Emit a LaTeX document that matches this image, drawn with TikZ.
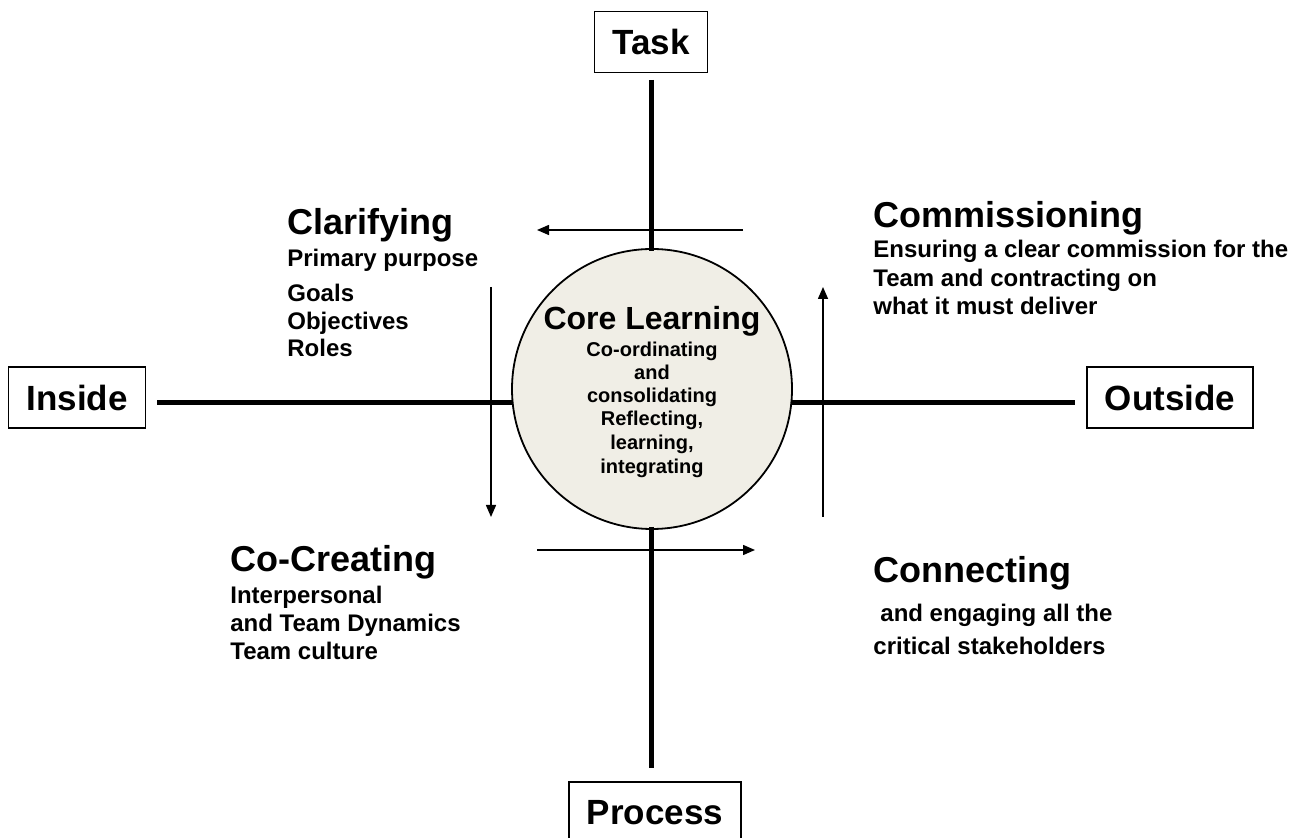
\documentclass[tikz,border=0pt]{standalone}
\usepackage{fontspec}
\setmainfont{Liberation Sans}
\usetikzlibrary{arrows.meta}
\definecolor{corefill}{RGB}{240,238,230}
\tikzset{
  axisbox/.style={draw=black, line width=0.8pt, fill=white, minimum height=30.5pt, inner xsep=9pt, font=\fontsize{17.5}{20}\selectfont\bfseries},
  axisline/.style={line width=2.5pt},
  flowarrow/.style={line width=0.75pt, -{Triangle[length=6pt,width=5pt]}},
  headtxt/.style={anchor=base west, inner sep=0pt, font=\fontsize{18}{20}\selectfont\bfseries},
  subtxt/.style={anchor=base west, inner sep=0pt, font=\fontsize{12}{14}\selectfont\bfseries},
  coretitle/.style={anchor=base, inner sep=0pt, font=\fontsize{16}{18}\selectfont\bfseries},
  coretxt/.style={anchor=base, inner sep=0pt, font=\fontsize{10}{12}\selectfont\bfseries},
}
\begin{document}
\begin{tikzpicture}[x=0.5pt,y=-0.5pt]
\useasboundingbox (0,0) rectangle (1296,838);
\begin{scope}
\clip (0,0) rectangle (1296,838);
% core circle
\node[circle, draw=black, line width=0.9pt, fill=corefill, minimum size=140pt, inner sep=0pt] (core) at (652,389) {};
% axis boxes
\node[axisbox] (task) at (651,42) {Task};
\node[axisbox] (inside) at (77,397.5) {Inside};
\node[axisbox] (outside) at (1170,397.5) {Outside};
\node[axisbox, anchor=north] (process) at (655,781) {Process};
% axis line end points
\coordinate (tA) at (651,80);
\coordinate (tB) at (651,251);
\coordinate (bA) at (651,527);
\coordinate (bB) at (651,768);
\coordinate (lA) at (157,403);
\coordinate (lB) at (512,403);
\coordinate (rA) at (792,403);
\coordinate (rB) at (1075,403);
\draw[axisline] (tA) -- (tB);
\draw[axisline] (bA) -- (bB);
\draw[axisline] (lA) -- (lB);
\draw[axisline] (rA) -- (rB);
% flow arrows
\coordinate (a1s) at (743,230);
\coordinate (a1e) at (537,230);
\coordinate (a2s) at (491,287);
\coordinate (a2e) at (491,517);
\coordinate (a3s) at (537,550);
\coordinate (a3e) at (755,550);
\coordinate (a4s) at (823,517);
\coordinate (a4e) at (823,287);
\draw[flowarrow] (a1s) -- (a1e);
\draw[flowarrow] (a2s) -- (a2e);
\draw[flowarrow] (a3s) -- (a3e);
\draw[flowarrow] (a4s) -- (a4e);
\end{scope}
% core text
\node[coretitle] (c0) at (652,330) {Core Learning};
\node[coretxt] (c1) at (652,357) {Co-ordinating};
\node[coretxt] (c2) at (652,380) {and};
\node[coretxt] (c3) at (652,403) {consolidating};
\node[coretxt] (c4) at (652,426) {Reflecting,};
\node[coretxt] (c5) at (652,450) {learning,};
\node[coretxt] (c6) at (652,474) {integrating};
% Clarifying
\node[headtxt] (cl0) at (287,235) {Clarifying};
\node[subtxt] (cl1) at (287,267) {Primary purpose};
\node[subtxt] (cl2) at (287,302) {Goals};
\node[subtxt] (cl3) at (287,330) {Objectives};
\node[subtxt] (cl4) at (287,357) {Roles};
% Commissioning
\node[headtxt] (cm0) at (873,228) {Commissioning};
\node[subtxt] (cm1) at (873,258) {Ensuring a clear commission for the};
\node[subtxt] (cm2) at (873,287) {Team and contracting on};
\node[subtxt] (cm3) at (873,315) {what it must deliver};
% Co-Creating
\node[headtxt] (cc0) at (230,572) {Co-Creating};
\node[subtxt] (cc1) at (230,604) {Interpersonal};
\node[subtxt] (cc2) at (230,632) {and Team Dynamics};
\node[subtxt] (cc3) at (230,660) {Team culture};
% Connecting
\node[headtxt] (cn0) at (873,583) {Connecting};
\node[subtxt] (cn1) at (880,622) {and engaging all the};
\node[subtxt] (cn2) at (873,655) {critical stakeholders};
\end{tikzpicture}
\end{document}
